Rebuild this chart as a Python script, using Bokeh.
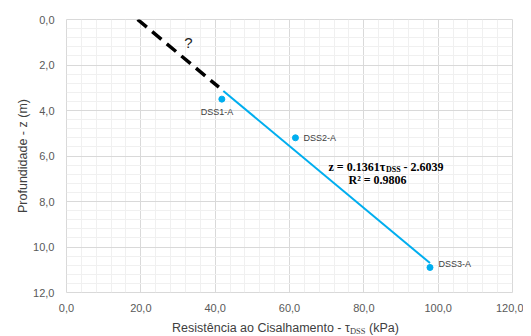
from bokeh.plotting import figure
from bokeh.models import (Range1d, FixedTicker, CustomJSTickFormatter, Label,
                          ColumnDataSource, Div)
from bokeh.layouts import column
from bokeh.embed import file_html
from bokeh.resources import INLINE

# ---- data ----
tau = [41.8, 61.6, 97.8]
depth = [3.5, 5.2, 10.9]
names = ["DSS1-A", "DSS2-A", "DSS3-A"]

slope = 0.1361
intercept = -2.6039
r2 = 0.9806
fit_tau = [42.2, 97.8]
extrap_tau = [19.13, 41.0]

x_ticks = [0, 20, 40, 60, 80, 100, 120]
x_minor = [4, 8, 12, 16, 24, 28, 32, 36, 44, 48, 52, 56, 64, 68, 72, 76,
           84, 88, 92, 96, 104, 108, 112, 116]
y_ticks = [0, 2, 4, 6, 8, 10, 12]
y_minor = [0.4, 0.8, 1.2, 1.6, 2.4, 2.8, 3.2, 3.6, 4.4, 4.8, 5.2, 5.6,
           6.4, 6.8, 7.2, 7.6, 8.4, 8.8, 9.2, 9.6, 10.4, 10.8, 11.2, 11.6]

fit_z = [slope * t + intercept for t in fit_tau]
extrap_z = [slope * t + intercept for t in extrap_tau]

# frame occupies pixels 66..512 (x) and 19..293 (y)
FL, FR, FT, FB = 66, 512, 19, 293
W, H = 523, 314

def px(v):
    return (v - FL) / float(FR - FL) * 120.0

def py(v):
    return (v - FT) / float(FB - FT) * 12.0

BLUE = "#00AEEF"
TXT = "#404040"

p = figure(width=W, height=H, output_backend="svg", toolbar_location=None,
           x_range=Range1d(0, 120), y_range=Range1d(12, 0),
           min_border_left=FL, min_border_right=W - FR, min_border_top=FT,
           min_border_bottom=H - FB)
p.background_fill_color = "white"
p.border_fill_color = "white"
p.outline_line_color = "#d9d9d9"

fmt = CustomJSTickFormatter(code="return tick.toFixed(1).replace('.', ',');")
p.xaxis.ticker = FixedTicker(ticks=x_ticks, minor_ticks=x_minor)
p.yaxis.ticker = FixedTicker(ticks=y_ticks, minor_ticks=y_minor)
p.xgrid.ticker = p.xaxis.ticker
p.ygrid.ticker = p.yaxis.ticker
for ax in (p.xaxis, p.yaxis):
    ax.formatter = fmt
    ax.axis_line_color = None
    ax.major_tick_line_color = None
    ax.minor_tick_line_color = None
    ax.major_tick_out = 0
    ax.minor_tick_out = 0
    ax.major_tick_in = 0
    ax.minor_tick_in = 0
    ax.major_label_text_font = "Liberation Sans"
    ax.major_label_text_font_size = "11px"
    ax.major_label_text_color = "#595959"
    ax.axis_label_text_font = "Liberation Sans"
    ax.axis_label_text_font_size = "12.5px"
    ax.axis_label_text_font_style = "normal"
    ax.axis_label_text_color = TXT
p.xaxis.major_label_standoff = 11
p.yaxis.major_label_standoff = 12
p.yaxis.axis_label = "Profundidade - z (m)"
p.yaxis.axis_label_standoff = 0

for g in (p.xgrid, p.ygrid):
    g.grid_line_color = "#d9d9d9"
    g.minor_grid_line_color = "#f0f0f0"

# extrapolated (dashed) and fitted trend line
p.line(extrap_tau, extrap_z, line_color="black", line_width=3.5,
       line_dash="12 7")
p.line(fit_tau, fit_z, line_color=BLUE, line_width=2)

src = ColumnDataSource(dict(tau=tau, depth=depth, names=names))
p.scatter("tau", "depth", source=src, size=6, color=BLUE)


def lab(x, y, text, align="left", size="9px", font="Liberation Sans",
        style="normal", color=TXT, baseline="middle"):
    p.add_layout(Label(x=x, y=y, text=text, text_align=align,
                       text_baseline=baseline, text_font_size=size,
                       text_font=font, text_font_style=style,
                       text_color=color))

# point labels
lab(px(216.5), py(112), names[0], align="center")
lab(px(303), py(138), names[1])
lab(px(438), py(264), names[2])

lab(px(188), py(42), "?", align="center", size="15px", color="#222222")

# equation
SER = "Liberation Serif"
lab(px(328), py(167), "z = %.4fτ" % slope, size="12px", font=SER,
    style="bold", color="black", baseline="alphabetic")
lab(px(385.5), py(169.5), "DSS", size="8px", font=SER, style="bold",
    color="black", baseline="alphabetic")
lab(px(403), py(167), "- %.4f" % abs(intercept), size="12px", font=SER,
    style="bold", color="black", baseline="alphabetic")
lab(px(348), py(180), "R² = %.4f" % r2, size="12px", font=SER,
    style="bold", color="black", baseline="alphabetic")

# x axis title with subscript (HTML text below the figure)
xtitle = Div(
    text=('Resistência ao Cisalhamento - τ'
          '<sub style="font-family:\'Liberation Serif\';font-size:8.5px;'
          'vertical-align:-2px;">DSS</sub> (kPa)'),
    width=W, height=336 - 8 - H,
    styles={"font-family": "'Liberation Sans', Arial, sans-serif",
            "font-size": "12.5px", "color": TXT, "padding-left": "167px",
            "padding-top": "2px", "white-space": "nowrap",
            "line-height": "14px"})

layout = column(p, xtitle, spacing=0)
open("out.html", "w").write(file_html(layout, INLINE))
